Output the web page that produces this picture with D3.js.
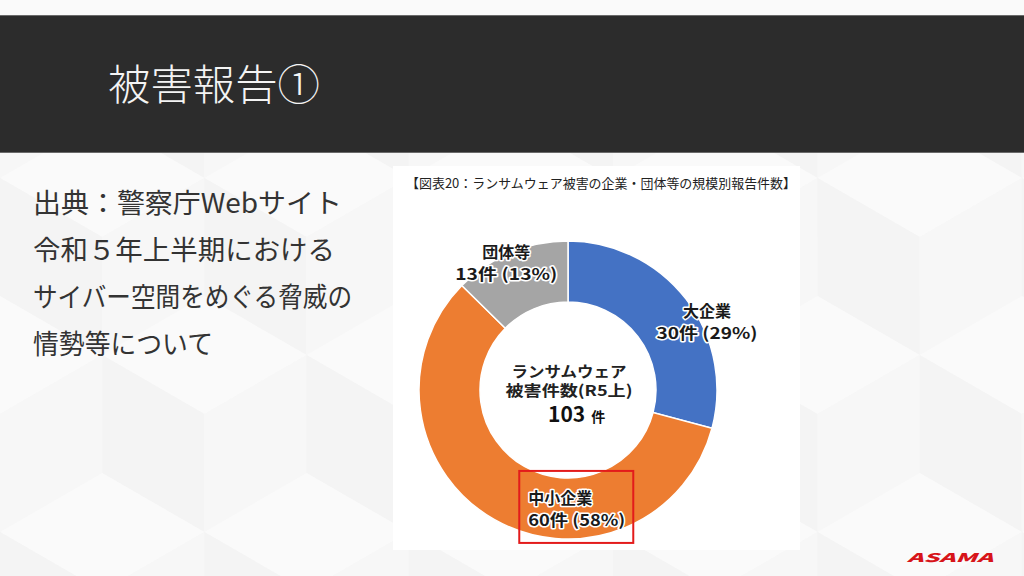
<!DOCTYPE html>
<html><head><meta charset="utf-8">
<script src="https://cdn.jsdelivr.net/npm/d3@7"></script>
<style>
html,body{margin:0;padding:0;background:#f7f7f7;}
svg{display:block;}
text{font-family:"Noto Sans CJK JP","Noto Sans",sans-serif;}
</style></head>
<body><div id="chart"></div>
<script>
// ---- data ----
const categories = ["大企業", "中小企業", "団体等"];
const counts = [30, 60, 13];
const percentLabels = ["29%", "58%", "13%"];
const colors = ["#4472C4", "#ED7D31", "#A5A5A5"];
const totalLabel = "103";
const slideTitle = "被害報告①";
const chartTitle = "【図表20：ランサムウェア被害の企業・団体等の規模別報告件数】";
const sourceLines = ["出典：警察庁Webサイト", "令和５年上半期における", "サイバー空間をめぐる脅威の", "情勢等について"];
const centerLines = ["ランサムウェア", "被害件数(R5上)"];

// ---- layout ----
const W = 1024, H = 576;
const sourceWidths = [309, 302, 319, 180];
const centerWidths = [115, 127];

const svg = d3.select("#chart").append("svg").attr("width", W).attr("height", H);

// background
svg.append("rect").attr("width", W).attr("height", H).attr("fill", "#f7f7f7");
const bg = svg.append("g");
const side = 118, hw = side * Math.sqrt(3) / 2;
for (let j = -1; j < 6; j++) {
  for (let i = -1; i < 7; i++) {
    const cx = i * 2 * hw + (j % 2 ? hw : 0), cy = j * side * 1.5 + 60;
    const top = [[cx, cy - side], [cx + hw, cy - side / 2], [cx, cy], [cx - hw, cy - side / 2]];
    const left = [[cx - hw, cy - side / 2], [cx, cy], [cx, cy + side], [cx - hw, cy + side / 2]];
    const right = [[cx + hw, cy - side / 2], [cx, cy], [cx, cy + side], [cx + hw, cy + side / 2]];
    bg.append("polygon").attr("points", top.join(" ")).attr("fill", "#fafafa");
    bg.append("polygon").attr("points", left.join(" ")).attr("fill", "#f4f4f4");
    bg.append("polygon").attr("points", right.join(" ")).attr("fill", "#f7f7f7");
  }
}

// header band
svg.append("rect").attr("x", 0).attr("y", 0).attr("width", W).attr("height", 15).attr("fill", "#fafafa");
svg.append("rect").attr("x", 0).attr("y", 15).attr("width", W).attr("height", 138).attr("fill", "#2c2c2c");
svg.append("line").attr("x1", 0).attr("x2", W).attr("y1", 15.5).attr("y2", 15.5).attr("stroke", "#6a6a6a");
svg.append("line").attr("x1", 0).attr("x2", W).attr("y1", 152.5).attr("y2", 152.5).attr("stroke", "#6a6a6a");
svg.append("text").attr("x", 108).attr("y", 100).attr("fill", "#f4f4f4")
  .attr("font-size", 42).attr("font-weight", 300)
  .attr("textLength", 212).attr("lengthAdjust", "spacingAndGlyphs").text(slideTitle);

// source text
const srcG = svg.append("g");
sourceLines.forEach((t, i) => {
  srcG.append("text").attr("x", 33).attr("y", 213 + i * 47)
    .attr("fill", "#333").attr("font-size", 27).attr("font-weight", 400)
    .attr("textLength", sourceWidths[i]).attr("lengthAdjust", "spacingAndGlyphs")
    .text(t);
});

// chart panel
svg.append("rect").attr("x", 393).attr("y", 166).attr("width", 407).attr("height", 384).attr("fill", "#ffffff");
svg.append("text").attr("x", 601).attr("y", 188).attr("text-anchor", "middle")
  .attr("fill", "#222").attr("font-size", 13).attr("textLength", 390).attr("lengthAdjust", "spacingAndGlyphs")
  .text(chartTitle);

// donut
const cx = 568, cy = 390, rOut = 149, rIn = 88;
const data = categories.map((c, i) => ({ cat: c, count: counts[i], pct: percentLabels[i], color: colors[i] }));
const pie = d3.pie().sort(null).value(d => d.count);
const arc = d3.arc().innerRadius(rIn).outerRadius(rOut);
const labelArc = d3.arc().innerRadius((rIn + rOut) / 2).outerRadius((rIn + rOut) / 2);
const g = svg.append("g").attr("transform", `translate(${cx},${cy})`);
const arcs = pie(data);
g.selectAll("path").data(arcs).join("path")
  .attr("d", arc).attr("fill", d => d.data.color)
  .attr("stroke", "#fff").attr("stroke-width", 1.5);

// label layout offsets (relative to ring centroid): dx, dy, anchor, line widths
const labelOffset = {
  "大企業": [45, 3, "middle", [48, 101]],
  "中小企業": [19, 15, "start", [64, 97]],
  "団体等": [-16, -19, "middle", [48, 102]]
};
arcs.forEach(a => {
  const [x0, y0] = labelArc.centroid(a);
  const off = labelOffset[a.data.cat];
  const x = x0 + off[0], y = y0 + off[1];
  const lg = g.append("g").attr("transform", `translate(${x},${y})`);
  [a.data.cat, `${a.data.count}件 (${a.data.pct})`].forEach((t, k) => {
    lg.append("text").attr("x", 0).attr("y", k === 0 ? -4 : 18)
      .attr("text-anchor", off[2]).attr("font-size", 16).attr("font-weight", 700)
      .attr("textLength", off[3][k]).attr("lengthAdjust", "spacingAndGlyphs")
      .attr("fill", "#1a1a1a").attr("stroke", "#fff").attr("stroke-width", 3)
      .attr("stroke-linejoin", "round").attr("paint-order", "stroke").text(t);
  });
  if (a.data.cat === "中小企業") {
    lg.append("rect").attr("x", -9).attr("y", -37).attr("width", 114).attr("height", 72)
      .attr("fill", "none").attr("stroke", "#e31b1b").attr("stroke-width", 2);
  }
});

// center text
centerLines.forEach((t, i) => {
  g.append("text").attr("x", 1).attr("y", -13 + i * 19).attr("text-anchor", "middle")
    .attr("font-size", 15).attr("font-weight", 700).attr("fill", "#222")
    .attr("textLength", centerWidths[i]).attr("lengthAdjust", "spacingAndGlyphs").text(t);
});
const tot = g.append("text").attr("x", -20).attr("y", 32).attr("fill", "#111").attr("font-weight", 700);
tot.append("tspan").attr("font-size", 21).text(totalLabel);
tot.append("tspan").attr("font-size", 14).attr("dx", 6).text("件");

// logo
svg.append("text").attr("x", 950).attr("y", 562).attr("text-anchor", "middle")
  .attr("font-family", "DejaVu Sans").attr("font-size", 12).attr("font-weight", 900)
  .attr("font-style", "italic").attr("fill", "#d7141a")
  .attr("textLength", 86).attr("lengthAdjust", "spacingAndGlyphs").text("ASAMA");
</script></body></html>
